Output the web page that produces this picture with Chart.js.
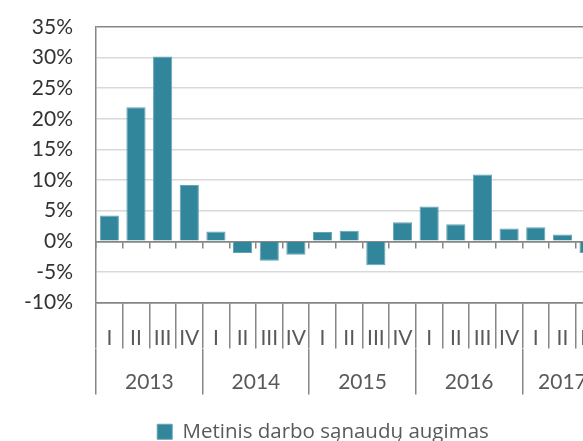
<!DOCTYPE html>
<html>
<head>
<meta charset="utf-8">
<script src="https://cdn.jsdelivr.net/npm/chart.js@4"></script>
<style>
  html, body { margin: 0; padding: 0; background: #fff; overflow: hidden; }
  #wrap { width: 646px; height: 452px; }
</style>
</head>
<body>
<div id="wrap"><canvas id="c" width="646" height="452"></canvas></div>
<script>
// ---- data ----
const quarters = ['I','II','III','IV','I','II','III','IV','I','II','III','IV','I','II','III','IV','I','II','III'];
const years = ['2013','2014','2015','2016','2017'];
const quartersPerYear = [4, 4, 4, 4, 3];
const growth = [4.2, 21.9, 30.2, 9.2, 1.6, -1.9, -3.2, -2.2, 1.5, 1.7, -3.9, 3.1, 5.7, 2.8, 10.9, 2.1, 2.3, 1.1, -1.9];
const seriesName = 'Metinis darbo sąnaudų augimas';
const yTicks = { min: -10, max: 35, step: 5 };

// year axis tick values derived from the quarter counts
const boundaries = [-0.5];
quartersPerYear.forEach(n => boundaries.push(boundaries[boundaries.length - 1] + n));
const centers = years.map((y, i) => (boundaries[i] + boundaries[i + 1]) / 2);
const yearTickValues = boundaries.concat(centers).sort((a, b) => a - b);

const AXIS = '#868686';
const GRID = '#d9d9d9';
const FONT = 'Lato';

new Chart(document.getElementById('c'), {
  type: 'bar',
  data: {
    labels: quarters,
    datasets: [{
      label: seriesName,
      data: growth,
      backgroundColor: '#31869b',
      borderColor: '#63a5b7',
      borderWidth: 1,
      barPercentage: 0.72,
      categoryPercentage: 1.0,
      xAxisID: 'x',
      yAxisID: 'y'
    }]
  },
  options: {
    responsive: false,
    animation: false,
    layout: { padding: { top: 27, left: 0, right: 0, bottom: 0 } },
    plugins: {
      tooltip: { enabled: false },
      legend: {
        position: 'bottom',
        labels: {
          font: { family: 'Open Sans', size: 20.5 },
          color: '#595959',
          boxWidth: 15,
          boxHeight: 15,
          padding: 8
        }
      }
    },
    scales: {
      y: {
        type: 'linear',
        position: 'left',
        min: yTicks.min,
        max: yTicks.max,
        ticks: {
          stepSize: yTicks.step,
          padding: 0,
          color: '#333333',
          font: { family: FONT, size: 21 },
          callback: v => v + '%'
        },
        grid: {
          drawTicks: true,
          tickLength: 23,
          tickColor: 'rgba(0,0,0,0)',
          lineWidth: 1.5,
          color: ctx => (ctx.tick && (ctx.tick.value === yTicks.max || ctx.tick.value === 0 || ctx.tick.value === yTicks.min)) ? AXIS : GRID
        },
        border: { display: true, color: AXIS, width: 1.5 },
        afterFit: s => { s.width = 96; }
      },
      yR: {
        type: 'linear',
        position: 'right',
        display: true,
        min: yTicks.min,
        max: yTicks.max,
        ticks: { display: false },
        grid: { display: false, drawTicks: false },
        border: { display: false },
        afterFit: s => { s.width = 43.6; }
      },
      x: {
        type: 'category',
        position: 'bottom',
        weight: 0,
        offset: true,
        grid: {
          offset: true,
          drawOnChartArea: false,
          drawTicks: true,
          tickLength: 46,
          color: AXIS,
          lineWidth: 1.5
        },
        border: { display: true, color: AXIS, width: 1.5 },
        ticks: {
          autoSkip: false,
          maxRotation: 0,
          minRotation: 0,
          padding: -23,
          color: '#595959',
          font: { family: FONT, size: 21 }
        },
        afterFit: s => { s.height = 46; }
      },
      x0: {
        type: 'category',
        position: { y: 0 },
        offset: true,
        z: 1,
        grid: {
          offset: true,
          drawOnChartArea: false,
          drawTicks: true,
          tickLength: 6,
          color: AXIS,
          lineWidth: 1.5
        },
        border: { display: true, color: AXIS, width: 1.5 },
        ticks: { display: false }
      },
      yr: {
        type: 'linear',
        position: 'bottom',
        weight: 1,
        min: boundaries[0],
        max: boundaries[boundaries.length - 1],
        offset: false,
        afterBuildTicks: s => { s.ticks = yearTickValues.map(v => ({ value: v })); },
        grid: {
          offset: false,
          drawOnChartArea: false,
          drawTicks: true,
          tickLength: 46,
          lineWidth: 1.5,
          color: ctx => (ctx.tick && boundaries.includes(ctx.tick.value)) ? AXIS : 'rgba(0,0,0,0)'
        },
        border: { display: false },
        ticks: {
          autoSkip: false,
          maxRotation: 0,
          minRotation: 0,
          padding: -25,
          color: '#595959',
          font: { family: FONT, size: 21 },
          callback: v => { const i = centers.indexOf(v); return i >= 0 ? years[i] : ''; }
        },
        afterFit: s => { s.height = 65; }
      }
    }
  }
});
</script>
</body>
</html>
